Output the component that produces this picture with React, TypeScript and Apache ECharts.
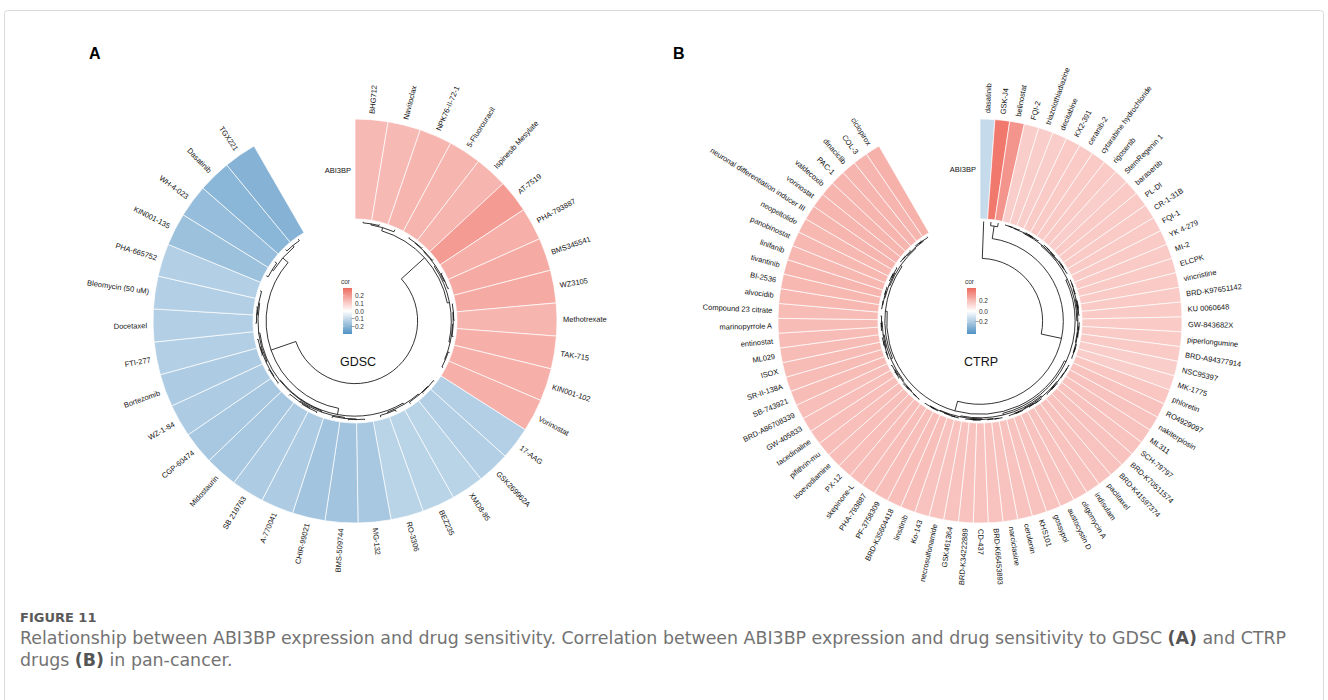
import React, { useEffect, useRef } from "react";
import * as echarts from "echarts";

// ---------------- data ----------------
const trackName = "ABI3BP";

const gdscDrugs = [
  "BHG712", "Navitoclax", "NPK76-II-72-1", "5-Fluorouracil", "Ispinesib Mesylate", "AT-7519",
  "PHA-793887", "BMS345541", "WZ3105", "Methotrexate", "TAK-715", "KIN001-102", "Vorinostat",
  "17-AAG", "GSK269962A", "XMD8-85", "BEZ235", "RO-3306", "MG-132", "BMS-509744", "CHIR-99021",
  "A-770041", "SB 216763", "Midostaurin", "CGP-60474", "WZ-1-84", "Bortezomib", "FTI-277",
  "Docetaxel", "Bleomycin (50 uM)", "PHA-665752", "KIN001-135", "WH-4-023", "Dasatinib", "TGX221",
];
const gdscCor = [
  0.14, 0.14, 0.15, 0.15, 0.15, 0.2, 0.16, 0.17, 0.17, 0.15, 0.16, 0.16, 0.16,
  -0.13, -0.13, -0.12, -0.12, -0.12, -0.15, -0.16, -0.16, -0.14, -0.14, -0.15, -0.15, -0.14,
  -0.14, -0.13, -0.13, -0.13, -0.13, -0.17, -0.18, -0.2, -0.21,
];

const ctrpDrugs = [
  "dasatinib", "GSK-J4", "belinostat", "FQI-2", "triazolothiadiazine", "decitabine", "KX2-391",
  "ceranib-2", "cytarabine hydrochloride", "rigosertib", "StemRegenin 1", "barasertib", "PL-DI",
  "CR-1-31B", "FQI-1", "YK 4-279", "MI-2", "ELCPK", "vincristine", "BRD-K97651142", "KU 0060648",
  "GW-843682X", "piperlongumine", "BRD-A94377914", "NSC95397", "MK-1775", "phloretin", "RO4929097",
  "nakiterpiosin", "ML311", "SCH-79797", "BRD-K70511574", "BRD-K41597374", "paclitaxel", "indisulam",
  "oligomycin A", "austocystin D", "gossypol", "KHS101", "cerulenin", "narciclasine", "BRD-K66453893",
  "CD-437", "BRD-K34222889", "GSK461364", "necrosulfonamide", "Ko-143", "linsitinib", "BRD-K35604418",
  "PF-3758309", "PHA-793887", "skepinone-L", "PX-12", "isoevodiamine", "pifithrin-mu", "tacedinaline",
  "GW-405833", "BRD-A86708339", "SB-743921", "SR-II-138A", "ISOX", "ML029", "entinostat",
  "marinopyrrole A", "Compound 23 citrate", "alvocidib", "BI-2536", "tivantinib", "linifanib",
  "panobinostat", "neopeltolide", "neuronal differentiation inducer III", "vorinostat", "valdecoxib",
  "PAC-1", "dinaciclib", "COL-3", "ciclopirox",
];
const ctrpCor = [
  -0.14, 0.38, 0.3, 0.14, 0.14, 0.14, 0.15, 0.15, 0.15, 0.15, 0.14, 0.15, 0.15,
  0.15, 0.15, 0.15, 0.15, 0.15, 0.15, 0.15, 0.15, 0.15, 0.15, 0.15, 0.14, 0.14,
  0.16, 0.17, 0.17, 0.17, 0.17, 0.17, 0.17, 0.17, 0.17, 0.17, 0.17, 0.17, 0.17,
  0.17, 0.17, 0.17, 0.17, 0.17, 0.17, 0.17, 0.17, 0.18, 0.18, 0.18, 0.18, 0.18,
  0.18, 0.18, 0.18, 0.18, 0.18, 0.18, 0.19, 0.19, 0.19, 0.19, 0.19, 0.19, 0.19,
  0.2, 0.2, 0.21, 0.2, 0.2, 0.2, 0.21, 0.21, 0.21, 0.21, 0.21, 0.21, 0.22,
];

const gdscLegendTicks = [0.2, 0.1, 0.0, -0.1, -0.2];
const ctrpLegendTicks = [0.2, 0.0, -0.2];
const gdscRange = 0.3;
const ctrpRange = 0.42;

// dendrograms: [height, left, right], leaves are drug indices
type Tree = number | [number, Tree, Tree];
function bal(lo: number, hi: number, h: number): Tree {
  if (lo === hi) return lo;
  const mid = Math.floor((lo + hi) / 2);
  return [h, bal(lo, mid, h * 0.62), bal(mid + 1, hi, h * 0.62)];
}
const gdscTree: Tree = [
  1.0,
  [0.15, [0.06, [0.03, 0, 1], 2], bal(3, 12, 0.09)],
  [
    0.29,
    [0.12, bal(13, 17, 0.08), [0.1, bal(18, 23, 0.07), bal(24, 30, 0.07)]],
    [0.1, [0.06, 31, 32], [0.05, 33, 34]],
  ],
];
const ctrpTree: Tree = [
  1.0,
  0,
  [0.44, [0.1, 1, 2], [0.17, bal(3, 50, 0.12), bal(51, 77, 0.12)]],
];

// ---------------- style constants ----------------
const BLUE = "#5091C3";
const RED = "#EE6A5E";
const SPAN = 330;
const R_IN = 0.505;
const R_LEAF = 0.493;
const R_ROOT = 0.31;
const LABEL_FONT = "Liberation Sans, Arial, sans-serif";

type PNode = { rf: number; pos: number; kids?: PNode[] };
function layoutTree(t: Tree, step: number, out: PNode[]): PNode {
  if (typeof t === "number") return { rf: R_LEAF, pos: (t + 0.5) * step };
  const [h, a, b] = t;
  const A = layoutTree(a, step, out);
  const B = layoutTree(b, step, out);
  const node: PNode = { rf: R_LEAF - h * (R_LEAF - R_ROOT), pos: (A.pos + B.pos) / 2, kids: [A, B] };
  out.push(node);
  return node;
}

const toZr = (deg: number) => ((deg - 90) * Math.PI) / 180;

function polarInfo(api: any) {
  const c = api.coord([0, 0]);
  const e = api.coord([1, 90]);
  return { cx: c[0], cy: c[1], R: Math.hypot(e[0] - c[0], e[1] - c[1]) };
}

function barSeries(polarIndex: number, names: string[], cor: number[]) {
  const step = SPAN / names.length;
  return {
    type: "custom",
    coordinateSystem: "polar",
    polarIndex,
    clip: false,
    silent: true,
    dimensions: ["r", "angle", "cor"],
    encode: { radius: 0, angle: 1 },
    data: cor.map((v, i) => [0.75, (i + 0.5) * step, v]),
    renderItem: (params: any, api: any) => {
      const { cx, cy, R } = polarInfo(api);
      const i = params.dataIndex;
      const a0 = i * step;
      const a1 = (i + 1) * step;
      const mid = (i + 0.5) * step;
      const rl = R + 6;
      const rad = (mid * Math.PI) / 180;
      const lx = cx + rl * Math.sin(rad);
      const ly = cy - rl * Math.cos(rad);
      const right = mid < 180;
      const rotDeg = right ? 90 - mid : 270 - mid;
      return {
        type: "group",
        children: [
          {
            type: "sector",
            shape: { cx, cy, r0: R * R_IN, r: R, startAngle: toZr(a0), endAngle: toZr(a1), clockwise: true },
            style: { fill: api.visual("color"), stroke: "#ffffff", lineWidth: 0.7 },
          },
          {
            type: "text",
            x: lx,
            y: ly,
            rotation: (rotDeg * Math.PI) / 180,
            style: {
              text: names[i],
              x: 0,
              y: 0,
              align: right ? "left" : "right",
              verticalAlign: "middle",
              fontSize: 7.5,
              fontFamily: LABEL_FONT,
              fill: "#111111",
            },
          },
        ],
      };
    },
  };
}

function dendroSeries(polarIndex: number, tree: Tree, n: number) {
  const step = SPAN / n;
  const nodes: PNode[] = [];
  layoutTree(tree, step, nodes);
  const ls = { stroke: "#000000", lineWidth: 0.8, fill: "none" };
  return {
    type: "custom",
    coordinateSystem: "polar",
    polarIndex,
    clip: false,
    silent: true,
    encode: { radius: 0, angle: 1 },
    data: nodes.map((nd) => [nd.rf, nd.pos]),
    renderItem: (params: any, api: any) => {
      const { cx, cy, R } = polarInfo(api);
      const nd = nodes[params.dataIndex];
      const r = nd.rf * R;
      const [A, B] = nd.kids as PNode[];
      const lo = Math.min(A.pos, B.pos);
      const hi = Math.max(A.pos, B.pos);
      const pt = (rr: number, deg: number) => {
        const t = (deg * Math.PI) / 180;
        return [cx + rr * Math.sin(t), cy - rr * Math.cos(t)];
      };
      const seg = (k: PNode) => {
        const p1 = pt(r, k.pos);
        const p2 = pt(k.rf * R, k.pos);
        return { type: "line", shape: { x1: p1[0], y1: p1[1], x2: p2[0], y2: p2[1] }, style: ls };
      };
      return {
        type: "group",
        children: [
          {
            type: "arc",
            shape: { cx, cy, r, startAngle: toZr(lo), endAngle: toZr(hi), clockwise: true },
            style: ls,
          },
          seg(A),
          seg(B),
        ],
      };
    },
  };
}

function legend(x: number, top: number, range: number, ticks: number[]) {
  const h = 46;
  const children: any[] = [
    {
      type: "text",
      x: x - 2,
      y: top - 7,
      style: { text: "cor", fontSize: 6.5, fontFamily: LABEL_FONT, fill: "#333", align: "left", verticalAlign: "middle" },
    },
    {
      type: "rect",
      shape: { x, y: top, width: 9, height: h },
      style: {
        fill: {
          type: "linear",
          x: 0,
          y: 0,
          x2: 0,
          y2: 1,
          colorStops: [
            { offset: 0, color: RED },
            { offset: 0.5, color: "#ffffff" },
            { offset: 1, color: BLUE },
          ],
        },
      },
    },
  ];
  ticks.forEach((t) => {
    const y = top + ((range - t) / (2 * range)) * h;
    children.push({
      type: "text",
      x: x + 21,
      y,
      style: {
        text: (t < 0 ? "\u2212" : "") + Math.abs(t).toFixed(1),
        fontSize: 6.5,
        fontFamily: LABEL_FONT,
        fill: "#333",
        align: "right",
        verticalAlign: "middle",
      },
    });
    children.push({
      type: "line",
      shape: { x1: x, y1: y, x2: x + 1.5, y2: y },
      style: { stroke: "#ffffff", lineWidth: 0.5 },
    });
  });
  return { type: "group", children };
}

export default function App() {
  const ref = useRef<HTMLDivElement>(null);
  useEffect(() => {
    if (!ref.current) return;
    const chart = echarts.init(ref.current, undefined, { renderer: "svg" });
    const axisOff = { show: false, axisLine: { show: false }, axisLabel: { show: false }, axisTick: { show: false }, splitLine: { show: false } };
    const captionFont = "DejaVu Sans, Verdana, sans-serif";
    const capSize = 17.4;
    const capLH = 20;
    const richB = { b: { fontSize: capSize, lineHeight: capLH, fontWeight: "bold", fontFamily: captionFont, fill: "#555" } };
    const option: any = {
      animation: false,
      backgroundColor: "#ffffff",
      polar: [
        { center: [355, 321], radius: 202 },
        { center: [980, 321], radius: 202 },
      ],
      angleAxis: [
        { polarIndex: 0, type: "value", min: 0, max: 360, startAngle: 90, clockwise: true, ...axisOff },
        { polarIndex: 1, type: "value", min: 0, max: 360, startAngle: 90, clockwise: true, ...axisOff },
      ],
      radiusAxis: [
        { polarIndex: 0, type: "value", min: 0, max: 1, ...axisOff },
        { polarIndex: 1, type: "value", min: 0, max: 1, ...axisOff },
      ],
      visualMap: [
        { type: "continuous", show: false, seriesIndex: 0, dimension: 2, min: -gdscRange, max: gdscRange, inRange: { color: [BLUE, "#ffffff", RED] } },
        { type: "continuous", show: false, seriesIndex: 2, dimension: 2, min: -ctrpRange, max: ctrpRange, inRange: { color: [BLUE, "#ffffff", RED] } },
      ],
      series: [
        barSeries(0, gdscDrugs, gdscCor),
        dendroSeries(0, gdscTree, gdscDrugs.length),
        barSeries(1, ctrpDrugs, ctrpCor),
        dendroSeries(1, ctrpTree, ctrpDrugs.length),
      ],
      graphic: [
        {
          type: "rect",
          shape: { x: 4.5, y: 10.5, width: 1319, height: 720, r: 3 },
          style: { fill: "none", stroke: "#dadada", lineWidth: 1 },
          silent: true,
        },
        { type: "text", x: 89, y: 53, style: { text: "A", fontSize: 16, fontWeight: "bold", fontFamily: LABEL_FONT, fill: "#000", verticalAlign: "middle" } },
        { type: "text", x: 673, y: 53, style: { text: "B", fontSize: 16, fontWeight: "bold", fontFamily: LABEL_FONT, fill: "#000", verticalAlign: "middle" } },
        { type: "text", x: 351, y: 170, style: { text: trackName, fontSize: 7.5, fontFamily: LABEL_FONT, fill: "#111", align: "right", verticalAlign: "middle" } },
        { type: "text", x: 976, y: 169, style: { text: trackName, fontSize: 7.5, fontFamily: LABEL_FONT, fill: "#111", align: "right", verticalAlign: "middle" } },
        { type: "text", x: 358, y: 362, style: { text: "GDSC", fontSize: 12.5, fontFamily: LABEL_FONT, fill: "#111", align: "center", verticalAlign: "middle" } },
        { type: "text", x: 981, y: 362, style: { text: "CTRP", fontSize: 12.5, fontFamily: LABEL_FONT, fill: "#111", align: "center", verticalAlign: "middle" } },
        legend(343, 288, gdscRange, gdscLegendTicks),
        legend(967, 288, ctrpRange, ctrpLegendTicks),
        {
          type: "text",
          x: 20,
          y: 617,
          style: { text: "FIGURE 11", fontSize: 13, lineHeight: 16, fontWeight: "bold", fontFamily: captionFont, fill: "#5a5a5a", verticalAlign: "middle" },
        },
        {
          type: "text",
          x: 20,
          y: 638,
          style: {
            text: "Relationship between ABI3BP expression and drug sensitivity. Correlation between ABI3BP expression and drug sensitivity to GDSC {b|(A)} and CTRP",
            fontSize: capSize,
            lineHeight: capLH,
            fontFamily: captionFont,
            fill: "#737373",
            verticalAlign: "middle",
            rich: richB,
          },
        },
        {
          type: "text",
          x: 20,
          y: 660,
          style: {
            text: "drugs {b|(B)} in pan-cancer.",
            fontSize: capSize,
            lineHeight: capLH,
            fontFamily: captionFont,
            fill: "#737373",
            verticalAlign: "middle",
            rich: richB,
          },
        },
      ],
    };
    chart.setOption(option);
    return () => chart.dispose();
  }, []);
  return <div ref={ref} style={{ position: "fixed", left: 0, top: 0, width: 1328, height: 700 }} />;
}
